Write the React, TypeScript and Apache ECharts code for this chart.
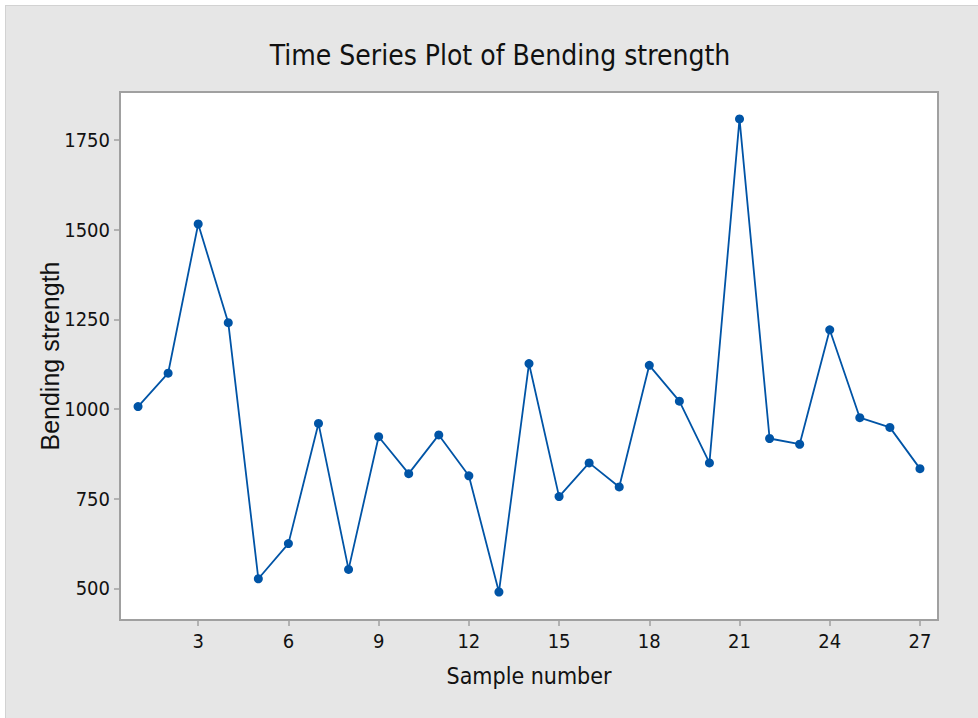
import React, { useEffect, useRef } from "react";
import * as echarts from "echarts";

const sampleNumbers = [1,2,3,4,5,6,7,8,9,10,11,12,13,14,15,16,17,18,19,20,21,22,23,24,25,26,27];
const bendingStrength = [1007,1100,1516,1241,527,625,960,553,923,820,928,814,490,1127,756,850,783,1122,1022,850,1809,918,902,1221,976,949,834];
const xTicks = [3,6,9,12,15,18,21,24,27];
const yTicks = [500,750,1000,1250,1500,1750];

const NARROW = '"Liberation Sans Narrow", "DejaVu Sans Condensed", "Liberation Sans", sans-serif';

export default function App() {
  const ref = useRef<HTMLDivElement>(null);
  useEffect(() => {
    document.body.style.margin = "0";
    const chart = echarts.init(ref.current!, null, { renderer: "svg" });
    chart.setOption({
      animation: false,
      backgroundColor: "transparent",
      title: {
        text: "Time Series Plot of Bending strength",
        left: 495,
        top: 36,
        textAlign: "center",
        textStyle: { fontFamily: NARROW, fontSize: 28, fontWeight: "normal", color: "#111" },
      },
      grid: {
        left: 120, right: 40, top: 92, bottom: 98,
        show: true, backgroundColor: "#ffffff", borderColor: "#a0a0a0", borderWidth: 2,
      },
      xAxis: {
        type: "value",
        min: 0.4,
        max: 27.6,
        name: "Sample number",
        nameLocation: "middle",
        nameGap: 44,
        nameMoveOverlap: false,
        nameTextStyle: { fontFamily: NARROW, fontSize: 23, color: "#111" },
        axisLine: { show: false },
        axisTick: { show: true, length: 6, lineStyle: { color: "#a0a0a0", width: 1.5 }, customValues: xTicks },
        axisLabel: { customValues: xTicks, fontFamily: NARROW, fontSize: 20, color: "#111", margin: 11, formatter: (v: number) => String(v) },
        splitLine: { show: false },
      },
      yAxis: {
        type: "value",
        min: 412,
        max: 1884,
        name: "Bending strength",
        nameLocation: "middle",
        nameGap: 58,
        nameMoveOverlap: false,
        nameTextStyle: { fontFamily: '"Liberation Sans", sans-serif', fontSize: 25, color: "#111" },
        axisLine: { show: false },
        axisTick: { show: true, length: 6, lineStyle: { color: "#a0a0a0", width: 1.5 }, customValues: yTicks },
        axisLabel: { customValues: yTicks, fontFamily: NARROW, fontSize: 20, color: "#111", margin: 10, formatter: (v: number) => String(v) },
        splitLine: { show: false },
      },
      series: [
        {
          type: "line",
          data: sampleNumbers.map((n, i) => [n, bendingStrength[i]]),
          symbol: "circle",
          symbolSize: 9,
          lineStyle: { color: "#0054a6", width: 1.8 },
          itemStyle: { color: "#0054a6" },
        },
      ],
    });
    return () => chart.dispose();
  }, []);
  return (
    <div style={{ position: "relative", width: 978, height: 718, background: "#ffffff", overflow: "hidden" }}>
      <div style={{ position: "absolute", left: 5, top: 5, width: 980, height: 720, background: "#e6e6e6", borderTop: "1px solid #d2d2d2", borderLeft: "1px solid #d2d2d2" }} />
      <div ref={ref} style={{ position: "absolute", left: 0, top: 0, width: 978, height: 718 }} />
    </div>
  );
}
